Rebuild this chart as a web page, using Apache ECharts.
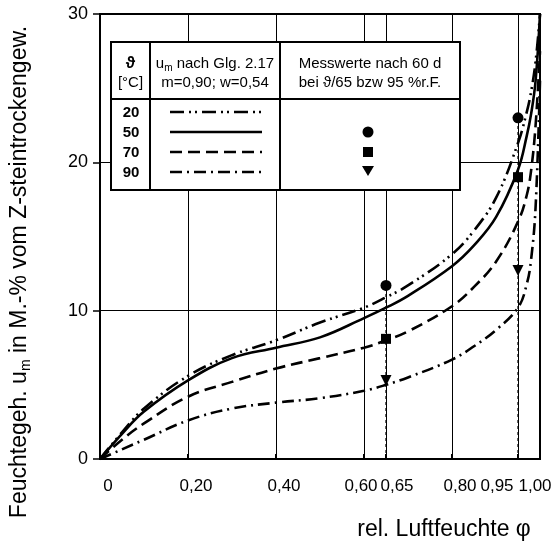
<!DOCTYPE html>
<html>
<head>
<meta charset="utf-8">
<script src="https://cdn.jsdelivr.net/npm/echarts@6/dist/echarts.min.js"></script>
<style>
  html, body { margin: 0; padding: 0; background: #fff; }
  #chart { width: 560px; height: 547px; }
</style>
</head>
<body>
<div id="chart"></div>
<script>
// rel. Luftfeuchte (phi) stuetzstellen
var phi = [0, 0.05, 0.1, 0.2, 0.3, 0.4, 0.5, 0.6, 0.65, 0.7, 0.8, 0.85, 0.9, 0.95, 0.97, 0.98, 0.99, 1.0];
// u_m nach Gl. 2.17 fuer 20, 50, 70, 90 Grad C
var u20 = [0, 1.8, 3.4, 5.6, 7.0, 8.0, 9.2, 10.2, 10.9, 11.7, 13.8, 15.4, 17.6, 21.3, 23.4, 24.8, 26.8, 30];
var u50 = [0, 1.7, 3.2, 5.3, 6.8, 7.5, 8.2, 9.5, 10.2, 11.0, 13.0, 14.4, 16.3, 19.5, 21.8, 23.3, 25.5, 30];
var u70 = [0, 1.3, 2.4, 4.2, 5.2, 6.1, 6.8, 7.5, 8.0, 8.6, 10.3, 11.6, 13.3, 16.0, 17.8, 19.5, 22.5, 27.5];
var u90 = [0, 0.65, 1.3, 2.6, 3.4, 3.8, 4.1, 4.6, 5.0, 5.5, 6.7, 7.6, 8.7, 10.2, 11.8, 13.5, 17.0, 25.5];

// Messwerte nach 60 d bei 65 bzw 95 % r.F.
var phiMess = [0.65, 0.95];
var mess50 = [11.7, 23.0];
var mess70 = [8.1, 19.0];
var mess90 = [5.3, 12.7];

var temps = ['20', '50', '70', '90'];
var xLabels = [0, 0.2, 0.4, 0.6, 0.65, 0.8, 0.95, 1.0];
var yTicks = [0, 10, 20, 30];

var dashes = [[14, 5, 2, 4, 2, 5], 'solid', [12, 6], [12, 5, 2, 5]];
var curves = [u20, u50, u70, u90];

function pairs(xs, ys) {
    var out = [];
    for (var i = 0; i < xs.length; i++) {
        out.push([xs[i], ys[i]]);
    }
    return out;
}

function fmtX(v) {
    if (v === 0) return '0';
    return v.toFixed(2).replace('.', ',');
}

function near(a, b) { return Math.abs(a - b) < 1e-6; }

var series = [];
for (var i = 0; i < curves.length; i++) {
    series.push({
        name: temps[i],
        type: 'line',
        data: pairs(phi, curves[i]),
        smooth: 0.4,
        showSymbol: false,
        silent: true,
        z: 3,
        lineStyle: { color: '#000', width: 2.6, type: dashes[i] }
    });
}

// senkrechte Hilfslinien von den Messpunkten zur Achse
for (var j = 0; j < phiMess.length; j++) {
    series.push({
        type: 'line',
        data: [[phiMess[j], 0], [phiMess[j], mess50[j]]],
        showSymbol: false,
        silent: true,
        z: 2,
        lineStyle: { color: '#000', width: 1.2, type: [3, 3] }
    });
}

var messSets = [
    { data: mess50, symbol: 'circle', size: 11, rot: 0 },
    { data: mess70, symbol: 'rect', size: 10, rot: 0 },
    { data: mess90, symbol: 'triangle', size: 11, rot: 180 }
];
messSets.forEach(function (m) {
    series.push({
        type: 'scatter',
        data: pairs(phiMess, m.data),
        symbol: m.symbol,
        symbolSize: m.size,
        symbolRotate: m.rot,
        itemStyle: { color: '#000', opacity: 1 },
        z: 4
    });
});

// Legendentabelle
var font = 'Liberation Sans, Arial, sans-serif';
var bx = 111, by = 42, bw = 349, bh = 148;
var c1 = 150, c2 = 280, hy = 99;
var rowY = [112, 132, 152, 172];
var legend = [
    { type: 'rect', shape: { x: bx, y: by, width: bw, height: bh }, style: { fill: '#fff', stroke: '#000', lineWidth: 2 }, z: 10 },
    { type: 'line', shape: { x1: bx, y1: hy, x2: bx + bw, y2: hy }, style: { stroke: '#000', lineWidth: 2 }, z: 11 },
    { type: 'line', shape: { x1: c1, y1: by, x2: c1, y2: by + bh }, style: { stroke: '#000', lineWidth: 2 }, z: 11 },
    { type: 'line', shape: { x1: c2, y1: by, x2: c2, y2: by + bh }, style: { stroke: '#000', lineWidth: 2 }, z: 11 },
    { type: 'text', x: (bx + c1) / 2, y: 64, z: 11, style: { text: 'ϑ', font: 'bold 16px ' + font, align: 'center', verticalAlign: 'middle', fill: '#000' } },
    { type: 'text', x: (bx + c1) / 2, y: 83, z: 11, style: { text: '[°C]', font: '15px ' + font, align: 'center', verticalAlign: 'middle', fill: '#000' } },
    { type: 'text', x: (c1 + c2) / 2, y: 64, z: 11, style: {
        text: '{a|u}{s|m}{a| nach Glg. 2.17}', align: 'center', verticalAlign: 'middle',
        rich: {
            a: { fontSize: 15, fontFamily: font, lineHeight: 18, fill: '#000' },
            s: { fontSize: 10, fontFamily: font, lineHeight: 8, verticalAlign: 'bottom', fill: '#000' }
        }
    } },
    { type: 'text', x: (c1 + c2) / 2, y: 83, z: 11, style: { text: 'm=0,90; w=0,54', font: '15px ' + font, align: 'center', verticalAlign: 'middle', fill: '#000' } },
    { type: 'text', x: (c2 + bx + bw) / 2, y: 64, z: 11, style: { text: 'Messwerte nach 60 d', font: '15px ' + font, align: 'center', verticalAlign: 'middle', fill: '#000' } },
    { type: 'text', x: (c2 + bx + bw) / 2, y: 83, z: 11, style: { text: 'bei ϑ/65 bzw 95 %r.F.', font: '15px ' + font, align: 'center', verticalAlign: 'middle', fill: '#000' } }
];
for (var r = 0; r < temps.length; r++) {
    legend.push({ type: 'text', x: 131, y: rowY[r] + 1, z: 11, style: { text: temps[r], font: 'bold 15px ' + font, align: 'center', verticalAlign: 'middle', fill: '#000' } });
    legend.push({ type: 'line', shape: { x1: 170, y1: rowY[r], x2: 262, y2: rowY[r] }, z: 11,
        style: { stroke: '#000', lineWidth: 2.6, lineDash: dashes[r] === 'solid' ? null : dashes[r] } });
}
var symY = [132, 152, 171];
legend.push({ type: 'circle', shape: { cx: 368, cy: symY[0], r: 5.5 }, style: { fill: '#000' }, z: 11 });
legend.push({ type: 'rect', shape: { x: 363, y: symY[1] - 5, width: 10, height: 10 }, style: { fill: '#000' }, z: 11 });
legend.push({ type: 'polygon', shape: { points: [[362, symY[2] - 5], [374, symY[2] - 5], [368, symY[2] + 5]] }, style: { fill: '#000' }, z: 11 });

// Achsentitel
legend.push({ type: 'text', x: 20, y: 272, rotation: Math.PI / 2, z: 11, style: {
    text: '{a|Feuchtegeh. u}{s|m}{a| in M.-% vom Z-steintrockengew.}', align: 'center', verticalAlign: 'middle',
    rich: {
        a: { fontSize: 23, fontFamily: font, lineHeight: 26, fill: '#000' },
        s: { fontSize: 14, fontFamily: font, lineHeight: 12, verticalAlign: 'bottom', fill: '#000' }
    }
} });
legend.push({ type: 'text', x: 444, y: 530, z: 11, style: { text: 'rel. Luftfeuchte φ', font: '23px ' + font, align: 'center', verticalAlign: 'middle', fill: '#000' } });

var option = {
    backgroundColor: '#fff',
    animation: false,
    grid: {
        left: 100, right: 20, top: 14, bottom: 88,
        show: true, borderColor: '#000', borderWidth: 2
    },
    xAxis: {
        type: 'value', min: 0, max: 1, interval: 0.2,
        axisLine: { lineStyle: { color: '#000', width: 2 } },
        axisTick: { show: true, inside: true, length: 5, customValues: xLabels, lineStyle: { color: '#000', width: 2 } },
        splitLine: { show: true, lineStyle: { color: '#000', width: 1 } },
        axisLabel: {
            customValues: xLabels,
            margin: 19,
            color: '#000',
            fontFamily: 'Liberation Sans, Arial, sans-serif',
            fontSize: 17,
            formatter: function (v) {
                var k = 'r';
                if (near(v, 0.6)) k = 'n';
                else if (near(v, 0.65)) k = 'rr';
                else if (near(v, 0.95)) k = 'll';
                else if (near(v, 1)) k = 'l';
                return '{' + k + '|' + fmtX(v) + '}';
            },
            rich: {
                r: { padding: [0, 0, 0, 16] },
                n: { padding: [0, 6, 0, 0] },
                rr: { padding: [0, 0, 0, 22] },
                ll: { padding: [0, 42, 0, 0] },
                l: { padding: [0, 10, 0, 0] }
            }
        }
    },
    yAxis: {
        type: 'value', min: 0, max: 30, interval: 10,
        axisLine: { show: true, lineStyle: { color: '#000', width: 2 } },
        axisTick: { show: true, inside: false, length: 7, lineStyle: { color: '#000', width: 1.5 } },
        splitLine: { show: true, lineStyle: { color: '#000', width: 1 } },
        axisLabel: {
            customValues: yTicks,
            margin: 12, color: '#000', fontSize: 18,
            fontFamily: 'Liberation Sans, Arial, sans-serif'
        }
    },
    graphic: legend,
    series: series
};

var myChart = echarts.init(document.getElementById('chart'));
myChart.setOption(option);
</script>
</body>
</html>
